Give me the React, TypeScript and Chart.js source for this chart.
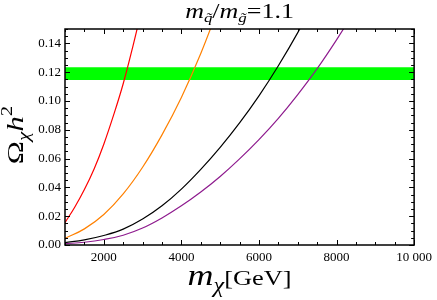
import { useEffect, useRef } from "react";
import { Chart, registerables } from "chart.js";

Chart.register(...registerables);

// ---- data ----
const xMin = 1000;
const xMax = 10000;
const yMin = 0;
const yMax = 0.15;

const xTickValues = [2000, 4000, 6000, 8000, 10000];
const xTickLabels = ["2000", "4000", "6000", "8000", "10 000"];
const yTickValues = [0, 0.02, 0.04, 0.06, 0.08, 0.1, 0.12, 0.14];
const yTickLabels = ["0.00", "0.02", "0.04", "0.06", "0.08", "0.10", "0.12", "0.14"];

const bandLow = 0.1145;
const bandHigh = 0.1235;

const redMass = [1000, 1250, 1500, 1750, 2000, 2250, 2500, 2750, 3000];
const redOmega = [0.0155, 0.0262, 0.0385, 0.0528, 0.07, 0.09, 0.112, 0.138, 0.166];

const orangeMass = [1000, 1500, 2000, 2500, 3000, 3500, 4000, 4500, 5000];
const orangeOmega = [0.0046, 0.0112, 0.0212, 0.0355, 0.054, 0.0765, 0.1025, 0.133, 0.168];

const blackMass = [1000, 1500, 2000, 2500, 3000, 3500, 4000, 4500, 5000, 5500, 6000, 6500, 7000, 7500];
const blackOmega = [0.0017, 0.0036, 0.0066, 0.011, 0.018, 0.0272, 0.0388, 0.0525, 0.0678, 0.0848, 0.1036, 0.1245, 0.1475, 0.173];

const purpleMass = [1000, 1500, 2000, 2500, 3000, 3500, 4000, 4500, 5000, 5500, 6000, 6500, 7000, 7500, 8000, 8500];
const purpleOmega = [0.0009, 0.0019, 0.0038, 0.0068, 0.0118, 0.0188, 0.0272, 0.0368, 0.0476, 0.0598, 0.0732, 0.088, 0.1045, 0.1225, 0.1425, 0.164];

// ---- styles ----
const SERIF = '"Liberation Serif", "Times New Roman", serif';
const xMinorStep = 500;
const xMajorStep = 2000;
const yMinorStep = 0.005;
const yMinorPerMajor = 4;

const toXY = (xs: number[], ys: number[]) => xs.map((x, i) => ({ x, y: ys[i] }));

type Seg = { t: string; f: string; dy: number };

function drawRich(ctx: CanvasRenderingContext2D, segs: Seg[], sx: number) {
  let total = 0;
  const widths: number[] = [];
  for (const s of segs) {
    ctx.font = s.f;
    const w = ctx.measureText(s.t).width;
    widths.push(w);
    total += w;
  }
  ctx.scale(sx, 1);
  let x = -total / 2;
  segs.forEach((s, i) => {
    ctx.font = s.f;
    ctx.fillText(s.t, x, s.dy);
    x += widths[i];
  });
}

const framePlugin = {
  id: "frameAndTitles",
  afterDraw(chart: any) {
    const { ctx, chartArea: a, scales } = chart;
    const xs = scales.x;
    const ys = scales.y;
    ctx.save();
    ctx.strokeStyle = "#000";
    ctx.lineWidth = 1;
    // x ticks (bottom and top, inward)
    for (let v = xMin; v <= xMax; v += xMinorStep) {
      const px = Math.round(xs.getPixelForValue(v)) + 0.5;
      const len = v % xMajorStep === 0 ? 5 : 3;
      ctx.beginPath();
      ctx.moveTo(px, a.bottom);
      ctx.lineTo(px, a.bottom - len);
      ctx.moveTo(px, a.top);
      ctx.lineTo(px, a.top + len);
      ctx.stroke();
    }
    // y ticks (left and right, inward)
    const nY = Math.round((yMax - yMin) / yMinorStep);
    for (let i = 0; i <= nY; i++) {
      const v = yMin + i * yMinorStep;
      const py = Math.round(ys.getPixelForValue(v)) + 0.5;
      const len = i % yMinorPerMajor === 0 ? 5 : 3;
      ctx.beginPath();
      ctx.moveTo(a.left, py);
      ctx.lineTo(a.left + len, py);
      ctx.moveTo(a.right, py);
      ctx.lineTo(a.right - len, py);
      ctx.stroke();
    }
    // frame
    ctx.lineWidth = 1.5;
    ctx.strokeRect(a.left, a.top, a.right - a.left, a.bottom - a.top);

    ctx.fillStyle = "#000";
    ctx.textBaseline = "alphabetic";
    // title
    ctx.save();
    ctx.translate((a.left + a.right) / 2, 18);
    drawRich(
      ctx,
      [
        { t: "m", f: `italic 20px ${SERIF}`, dy: 0 },
        { t: "q\u0303", f: `italic 13px ${SERIF}`, dy: 4 },
        { t: "/", f: `20px ${SERIF}`, dy: 0 },
        { t: "m", f: `italic 20px ${SERIF}`, dy: 0 },
        { t: "g\u0303", f: `italic 13px ${SERIF}`, dy: 4 },
        { t: "=1.1", f: `20px ${SERIF}`, dy: 0 },
      ],
      1.3
    );
    ctx.restore();

    // y-axis title
    ctx.save();
    ctx.translate(23, (a.top + a.bottom) / 2 - 2);
    ctx.rotate(-Math.PI / 2);
    drawRich(
      ctx,
      [
        { t: "\u03A9", f: `24px ${SERIF}`, dy: 0 },
        { t: "\u03C7", f: `italic 16px ${SERIF}`, dy: 6 },
        { t: "h", f: `italic 24px ${SERIF}`, dy: 0 },
        { t: "2", f: `16px ${SERIF}`, dy: -11 },
      ],
      1.3
    );
    ctx.restore();

    // x-axis title
    ctx.save();
    ctx.translate((a.left + a.right) / 2, 285);
    drawRich(
      ctx,
      [
        { t: "m", f: `italic 30px ${SERIF}`, dy: 0 },
        { t: "\u03C7", f: `italic 20px ${SERIF}`, dy: 7 },
        { t: "[GeV]", f: `22px ${SERIF}`, dy: 0 },
      ],
      1.2
    );
    ctx.restore();

    ctx.restore();
  },
};

export default function App() {
  const ref = useRef<HTMLCanvasElement>(null);
  useEffect(() => {
    document.body.style.margin = "0";
    const line = (data: { x: number; y: number }[], color: string) => ({
      data,
      borderColor: color,
      backgroundColor: color,
      borderWidth: 1.2,
      pointRadius: 0,
      fill: false,
      tension: 0.4,
      clip: 0,
      order: 1,
    });
    const chart = new Chart(ref.current!, {
      type: "line",
      data: {
        datasets: [
          line(toXY(redMass, redOmega), "#ff0000"),
          line(toXY(orangeMass, orangeOmega), "#ff8000"),
          line(toXY(blackMass, blackOmega), "#000000"),
          line(toXY(purpleMass, purpleOmega), "#8e1b8e"),
          {
            data: [
              { x: xMin, y: bandLow },
              { x: xMax, y: bandLow },
            ],
            borderWidth: 0,
            borderColor: "rgba(0,0,0,0)",
            pointRadius: 0,
            fill: false,
            order: 10,
          },
          {
            data: [
              { x: xMin, y: bandHigh },
              { x: xMax, y: bandHigh },
            ],
            borderWidth: 0,
            borderColor: "rgba(0,0,0,0)",
            backgroundColor: "#00ff00",
            pointRadius: 0,
            fill: "-1",
            order: 9,
          },
        ] as any,
      },
      options: {
        responsive: false,
        animation: false,
        devicePixelRatio: 1,
        layout: { padding: { left: 0, right: 20, top: 29, bottom: 0 } },
        plugins: {
          legend: { display: false },
          tooltip: { enabled: false },
          title: { display: false },
        },
        scales: {
          x: {
            type: "linear",
            min: xMin,
            max: xMax,
            grid: { display: false, drawTicks: false },
            border: { display: false },
            afterBuildTicks: (s: any) => {
              s.ticks = xTickValues.map((v) => ({ value: v }));
            },
            afterFit: (s: any) => {
              s.height = 55;
            },
            ticks: {
              autoSkip: false,
              maxRotation: 0,
              padding: 5,
              color: "#000",
              font: { family: SERIF, size: 13 },
              callback: (v: any) => {
                const i = xTickValues.indexOf(Number(v));
                return i >= 0 ? xTickLabels[i] : "";
              },
            },
          },
          y: {
            type: "linear",
            min: yMin,
            max: yMax,
            grid: { display: false, drawTicks: false },
            border: { display: false },
            afterBuildTicks: (s: any) => {
              s.ticks = yTickValues.map((v) => ({ value: v }));
            },
            afterFit: (s: any) => {
              s.width = 65;
            },
            ticks: {
              autoSkip: false,
              padding: 4,
              color: "#000",
              font: { family: SERIF, size: 13 },
              callback: (v: any) => {
                const i = yTickValues.findIndex((t) => Math.abs(t - Number(v)) < 1e-9);
                return i >= 0 ? yTickLabels[i] : "";
              },
            },
          },
        },
      },
      plugins: [framePlugin],
    });
    return () => chart.destroy();
  }, []);
  return <canvas ref={ref} width={437} height={300} style={{ display: "block" }} />;
}
